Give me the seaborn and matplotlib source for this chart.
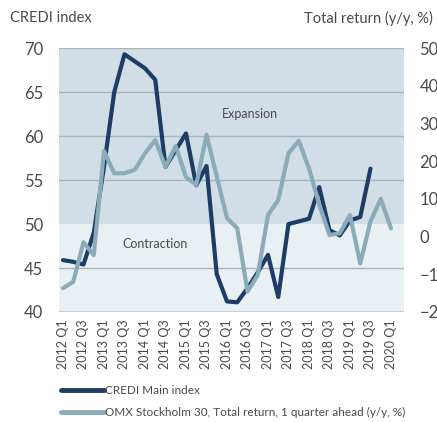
import pandas as pd
import seaborn as sns
import matplotlib.pyplot as plt
from matplotlib.lines import Line2D

# quarters 2012 Q1 .. 2020 Q1
quarters = [f"{y} Q{q}" for y in range(2012, 2021) for q in range(1, 5)][:33]

credi = [45.9, 45.7, 45.4, 49.0, 56.5, 65.0, 69.3, 68.5, 67.7, 66.4,
         56.5, 58.4, 60.3, 54.4, 56.6, 44.3, 41.2, 41.1, 42.7, 44.5,
         46.5, 41.7, 50.0, 50.3, 50.6, 54.2, 49.3, 48.7, 50.4, 50.8, 56.3]

omx = [-13.7, -12.0, -1.5, -4.9, 22.7, 16.8, 16.8, 17.7, 22.1, 25.6,
       18.5, 24.0, 15.8, 13.7, 27.0, 16.0, 4.9, 2.2, -14.6, -10.2,
       5.7, 9.7, 22.1, 25.4, 18.1, 8.5, 0.4, 0.9, 5.7, -7.1, 4.0, 10.0, 2.2]

df_credi = pd.DataFrame({'q': range(len(credi)), 'val': credi})
df_omx = pd.DataFrame({'q': range(len(omx)), 'val': omx})

dark = '#1e3d66'
light = '#8aabb9'
txt = '#4a4a4a'

sns.set_style('white')
plt.rcParams['font.family'] = ['Lato', 'DejaVu Sans']

fig = plt.figure(figsize=(4.37, 4.22), dpi=100)
ax = fig.add_axes([0.135, 0.2607, 0.7895, 0.6253])
ax2 = ax.twinx()

# background zones
ax.axhspan(50, 70, color='#d1dee6', zorder=0, lw=0)
ax.axhspan(40, 50, color='#e9f0f3', zorder=0, lw=0)
for g in [45, 55, 60, 65, 70]:
    ax.axhline(g, color='#a9b3b8', lw=1, zorder=1)
ax.axhline(40, color='#c9d0d4', lw=1.5, zorder=1)

sns.lineplot(data=df_credi, x='q', y='val', ax=ax, color=dark, lw=3, zorder=3)
sns.lineplot(data=df_omx, x='q', y='val', ax=ax2, color=light, lw=3, zorder=3)

ax.set_xlim(-0.39, 33.27)
ax.set_ylim(40, 70)
ax2.set_ylim(-20, 50)
ax.set_yticks([40, 45, 50, 55, 60, 65, 70])
ax2.set_yticks(range(-20, 51, 10))
ax.set_xticks(range(0, 33, 2))
ax.set_xticklabels(quarters[::2], rotation=90, fontsize=9, color=txt)
ax.tick_params(axis='y', labelsize=12, colors=txt, length=0, pad=11.5)
ax2.tick_params(axis='y', labelsize=12, colors=txt, length=0, pad=11)
ax.tick_params(axis='x', length=0, pad=5)
ax.set_xlabel('')
ax.set_ylabel('')
ax2.set_ylabel('')
for a in (ax, ax2):
    for s in a.spines.values():
        s.set_visible(False)

ax.text(18.2, 62.5, 'Expansion', fontsize=9, color=txt, ha='center', va='center')
ax.text(9.0, 47.7, 'Contraction', fontsize=9, color=txt, ha='center', va='center')

fig.text(0.023, 0.957, 'CREDI index', fontsize=10.5, color=txt, ha='left', va='center')
fig.text(0.991, 0.957, 'Total return (y/y, %)', fontsize=10.5, color=txt, ha='right', va='center')

handles = [Line2D([], [], color=dark, lw=3.5),
           Line2D([], [], color=light, lw=3.5)]
labels = ['CREDI Main index', 'OMX Stockholm 30, Total return, 1 quarter ahead (y/y, %)']
fig.legend(handles, labels, loc='upper left', bbox_to_anchor=(0.14, 0.087),
           frameon=False, fontsize=8.5, handlelength=3.6, handletextpad=0.1,
           labelspacing=0.9, labelcolor=txt, borderpad=0, borderaxespad=0)

fig.savefig('out.png', dpi=100)
